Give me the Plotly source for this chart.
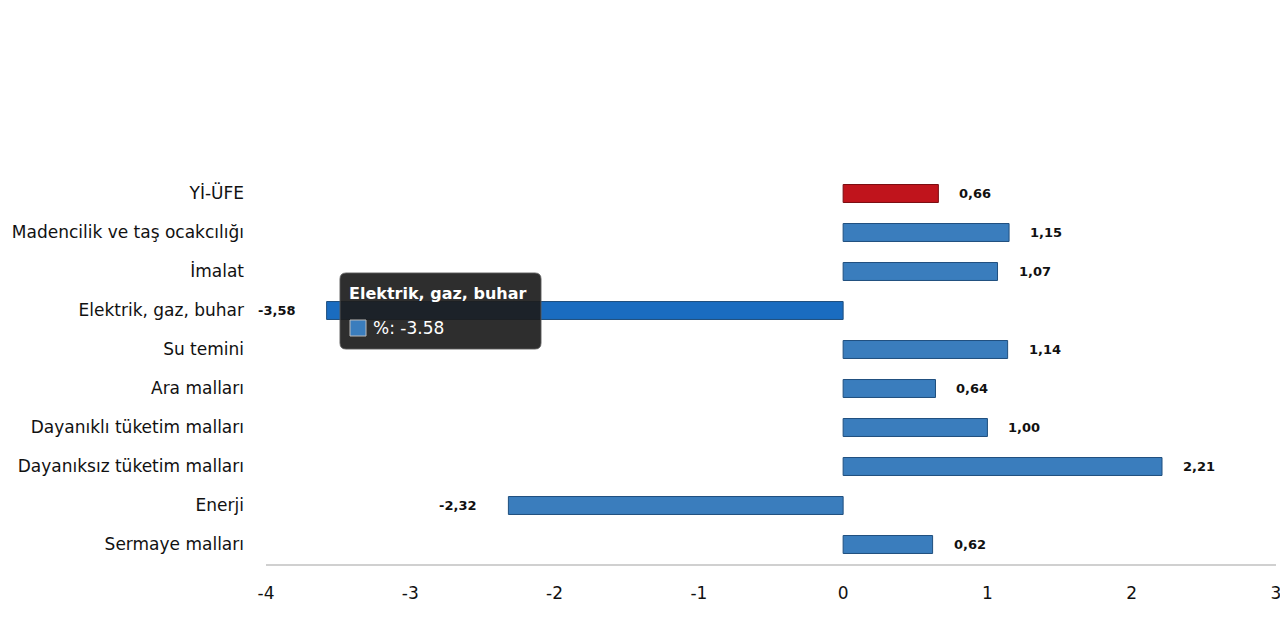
import plotly.graph_objects as go

categories = ["Yİ-ÜFE", "Madencilik ve taş ocakcılığı", "İmalat", "Elektrik, gaz, buhar",
              "Su temini", "Ara malları", "Dayanıklı tüketim malları",
              "Dayanıksız tüketim malları", "Enerji", "Sermaye malları"]
values = [0.66, 1.15, 1.07, -3.58, 1.14, 0.64, 1.00, 2.21, -2.32, 0.62]
x_ticks = [-4, -3, -2, -1, 0, 1, 2, 3]

FONT = "DejaVu Sans, Verdana, sans-serif"

colors = []
for c in categories:
    if c == "Yİ-ÜFE":
        colors.append("#c0141c")
    elif c == "Elektrik, gaz, buhar":
        colors.append("#1a6cc0")
    else:
        colors.append("#3a7dbd")
line_colors = ["#7a0c10" if c == "Yİ-ÜFE" else "#1f4f7e" for c in categories]

W, H = 1280, 640
L, R, T, B = 266, 4, 174, 76
pw, ph = W - L - R, H - T - B

def px(x):
    return (x - L) / pw

def py(y):
    return (H - B - y) / ph

fig = go.Figure()
fig.add_trace(go.Bar(
    y=categories, x=values, orientation="h",
    marker=dict(color=colors, line=dict(color=line_colors, width=1)),
    width=0.46, hoverinfo="skip",
))

annotations = []
for c, v in zip(categories, values):
    txt = f"{v:.2f}".replace(".", ",")
    annotations.append(dict(
        x=v, y=c, xref="x", yref="y", text=f"<b>{txt}</b>", showarrow=False,
        xanchor="left" if v >= 0 else "right", xshift=19 if v >= 0 else -30,
        font=dict(family=FONT, size=13, color="#111111"),
    ))

# tooltip overlay
x0, x1, y0, y1, r = px(340), px(541), py(273), py(349), 6
rx, ry = r / pw, r / ph
path = (f"M {x0+rx},{y0} L {x1-rx},{y0} Q {x1},{y0} {x1},{y0-ry} "
        f"L {x1},{y1+ry} Q {x1},{y1} {x1-rx},{y1} L {x0+rx},{y1} Q {x0},{y1} {x0},{y1+ry} "
        f"L {x0},{y0-ry} Q {x0},{y0} {x0+rx},{y0} Z")
shapes = [
    dict(type="path", path=path, xref="paper", yref="paper",
         fillcolor="rgba(28,28,28,0.92)", line=dict(color="rgba(90,90,90,0.9)", width=1), layer="above"),
    dict(type="rect", xref="paper", yref="paper", x0=px(350), x1=px(366), y0=py(320), y1=py(336),
         fillcolor="#3a7dbd", line=dict(color="#bbbbbb", width=1), layer="above"),
]
annotations.append(dict(x=px(347), y=py(293), xref="paper", yref="paper", showarrow=False,
                        xanchor="left", yanchor="middle", text="<b>Elektrik, gaz, buhar</b>",
                        font=dict(family=FONT, size=16, color="white")))
annotations.append(dict(x=px(371), y=py(328), xref="paper", yref="paper", showarrow=False,
                        xanchor="left", yanchor="middle", text="%: -3.58",
                        font=dict(family=FONT, size=17, color="white")))

fig.update_layout(
    width=W, height=H,
    margin=dict(l=L, r=R, t=T, b=B, autoexpand=False),
    plot_bgcolor="white", paper_bgcolor="white",
    showlegend=False,
    font=dict(family=FONT, size=15, color="#111111"),
    annotations=annotations, shapes=shapes,
    bargap=0.5,
)
fig.update_xaxes(range=[-4, 3], tickvals=x_ticks, ticktext=[str(t) for t in x_ticks],
                 showgrid=False, zeroline=False, showline=True, linecolor="#d0d0d0", linewidth=2,
                 ticks="", ticklabelstandoff=13, ticklabeloverflow="allow", automargin=False,
                 tickfont=dict(family=FONT, size=17, color="#111111"))
fig.update_yaxes(autorange="reversed", showgrid=False, showline=False, ticks="", automargin=False,
                 ticklabelstandoff=21, tickfont=dict(family=FONT, size=17, color="#111111"))

fig.write_html("out.html")
